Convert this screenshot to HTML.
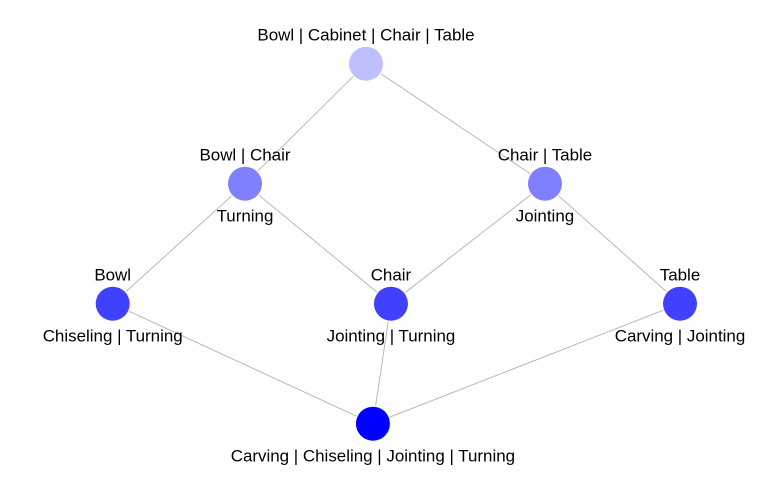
<!DOCTYPE html>
<html lang="en">
<head>
<meta charset="utf-8">
<title>Concept lattice</title>
<style>
  html, body { margin: 0; padding: 0; background: #fff; }
  svg { display: block; }
  text { font-family: "Liberation Sans", Arial, sans-serif; font-size: 16.95px; fill: #000; text-anchor: middle; }
</style>
</head>
<body>
<svg id="chart" xmlns="http://www.w3.org/2000/svg" width="760" height="479" viewBox="0 0 760 479"></svg>
<script>
const upperLabels = ["Bowl | Cabinet | Chair | Table", "Bowl | Chair", "Chair | Table", "Bowl", "Chair", "Table", ""];
const lowerLabels = ["", "Turning", "Jointing", "Chiseling | Turning", "Jointing | Turning", "Carving | Jointing", "Carving | Chiseling | Jointing | Turning"];
const nodeRank = [0, 1, 1, 2, 2, 2, 3];
const nodeColumn = [0.4465, 0.2332, 0.762, 0, 0.4905, 1, 0.4587];
const nodeShade = [0.25, 0.5, 0.5, 0.75, 0.75, 0.75, 1];
const edgeFrom = [0, 0, 1, 1, 2, 2, 3, 4, 5];
const edgeTo = [1, 2, 3, 4, 4, 5, 6, 6, 6];

const NS = "http://www.w3.org/2000/svg";
const svg = document.getElementById("chart");
const xScale = v => 112.7 + v * 567.3;
const yScale = r => 63.7 + r * 120;
const shadeColor = s => {
  const c = Math.round(255 * (1 - s));
  return "rgb(" + c + "," + c + ",255)";
};

edgeFrom.forEach((from, i) => {
  const to = edgeTo[i];
  const line = document.createElementNS(NS, "line");
  
  
  line.setAttribute("x1", xScale(nodeColumn[from]));
  line.setAttribute("y1", yScale(nodeRank[from]));
  line.setAttribute("x2", xScale(nodeColumn[to]));
  line.setAttribute("y2", yScale(nodeRank[to]));
  line.setAttribute("stroke", "#b8b8b8");
  line.setAttribute("stroke-width", "1");
  svg.appendChild(line);
});

nodeRank.forEach((rank, i) => {
  const cx = xScale(nodeColumn[i]);
  const cy = yScale(rank);
  const halo = document.createElementNS(NS, "circle");
  
  
  halo.setAttribute("cx", cx);
  halo.setAttribute("cy", cy);
  halo.setAttribute("r", 18.2);
  halo.setAttribute("fill", "#fff");
  svg.appendChild(halo);
  const node = document.createElementNS(NS, "circle");
  
  
  node.setAttribute("cx", cx);
  node.setAttribute("cy", cy);
  node.setAttribute("r", 17);
  node.setAttribute("fill", shadeColor(nodeShade[i]));
  svg.appendChild(node);
});

nodeRank.forEach((rank, i) => {
  const cx = xScale(nodeColumn[i]);
  const cy = yScale(rank);
  if (upperLabels[i]) {
    const t = document.createElementNS(NS, "text");
    
    
    t.setAttribute("x", cx);
    t.setAttribute("y", cy - 23);
    t.textContent = upperLabels[i];
    svg.appendChild(t);
  }
  if (lowerLabels[i]) {
    const t = document.createElementNS(NS, "text");
    
    
    t.setAttribute("x", cx);
    t.setAttribute("y", cy + 38);
    t.textContent = lowerLabels[i];
    svg.appendChild(t);
  }
});
</script>
</body>
</html>
